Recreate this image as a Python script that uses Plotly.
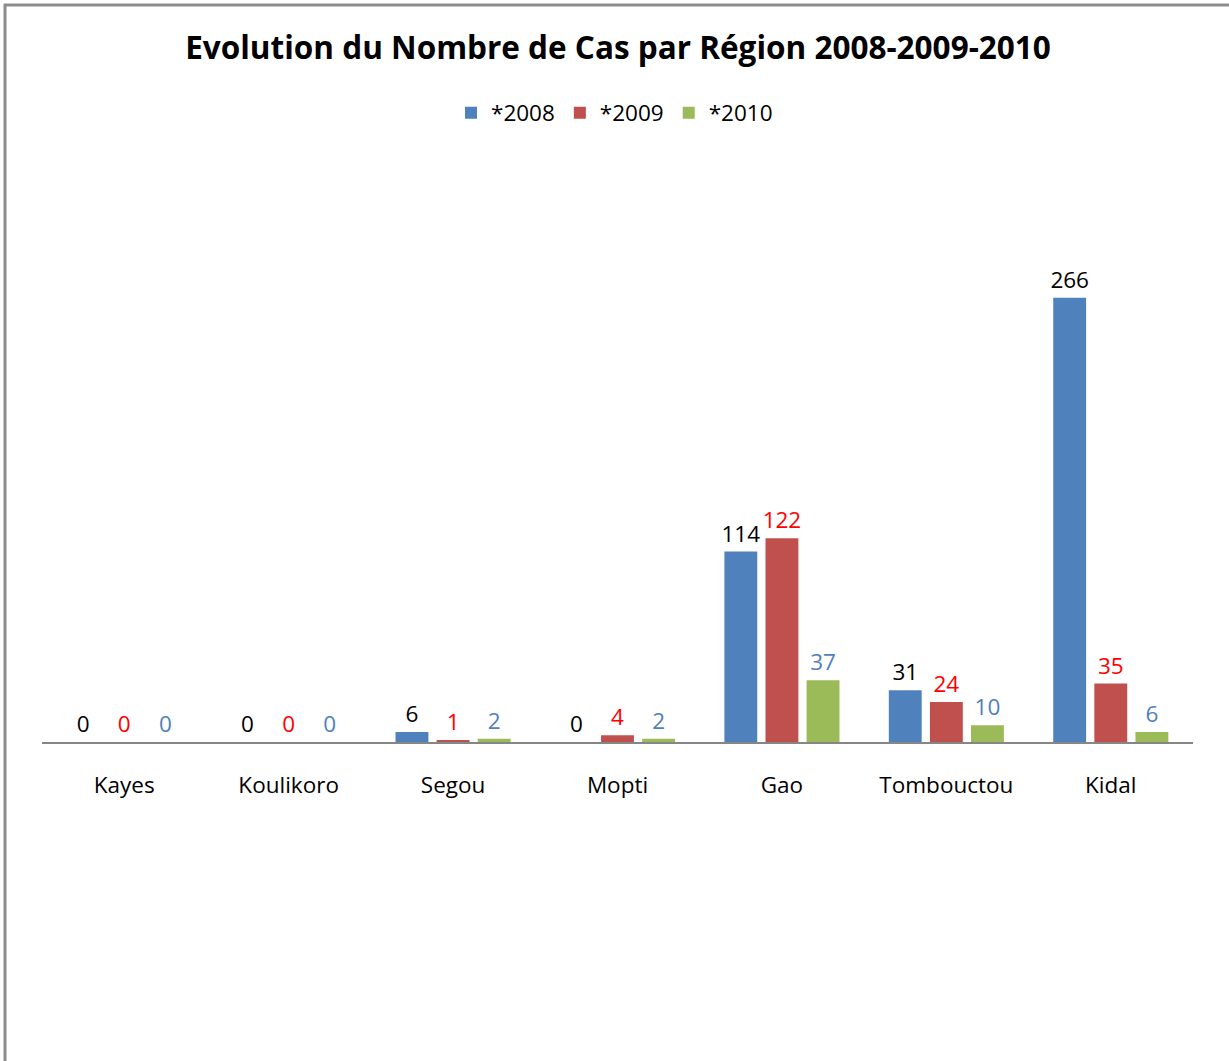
import plotly.graph_objects as go

regions = ["Kayes", "Koulikoro", "Segou", "Mopti", "Gao", "Tombouctou", "Kidal"]
series_names = ["*2008", "*2009", "*2010"]
cases_2008 = [0, 0, 6, 0, 114, 31, 266]
cases_2009 = [0, 0, 1, 4, 122, 24, 35]
cases_2010 = [0, 0, 2, 2, 37, 10, 6]

bar_colors = ["#4F81BD", "#C0504D", "#9BBB59"]
label_colors = ["#000000", "#FF0000", "#4F81BD"]
FONT = "Open Sans"
FS = 22.5

fig = go.Figure()
for name, vals, bc, lc in zip(series_names, [cases_2008, cases_2009, cases_2010], bar_colors, label_colors):
    fig.add_trace(go.Bar(
        x=regions, y=vals, name=name,
        marker=dict(color=bc, line=dict(width=0)),
        text=[str(v) for v in vals], textposition="outside",
        constraintext="none",
        textfont=dict(family=FONT, size=FS, color=lc),
        cliponaxis=False,
    ))

W, H = 1229, 1061
L, R, T, B = 42, 36, 241, 319
pw, ph = W - L - R, H - T - B

def px(x):
    return (x - L) / pw

def py(y):
    return (H - B - y) / ph

fig.update_layout(
    width=W, height=H,
    margin=dict(l=L, r=R, t=T, b=B),
    paper_bgcolor="white", plot_bgcolor="white",
    barmode="group", bargap=0.25, bargroupgap=0.2,
    font=dict(family=FONT, size=FS, color="black"),
    title=dict(text="<b>Evolution du Nombre de Cas par Région 2008-2009-2010</b>",
               x=618 / W, xanchor="center", y=1 - 48 / H, yanchor="middle",
               yref="container", font=dict(family=FONT, size=31.5, color="black")),
    legend=dict(orientation="h", x=0.5, xanchor="center", y=1 - 113 / H, yanchor="middle",
                yref="container", xref="container",
                font=dict(family=FONT, size=FS, color="black"),
                itemwidth=30, tracegroupgap=0),
    xaxis=dict(showline=True, linecolor="#868686", linewidth=2, ticks="",
               showgrid=False, tickfont=dict(family=FONT, size=FS, color="black"),
               ticklabelstandoff=22),
    yaxis=dict(range=[0, 300], visible=False, showgrid=False, zeroline=False),
    shapes=[dict(type="rect", xref="paper", yref="paper",
                 x0=px(5), x1=px(W + 10), y0=py(H + 10), y1=py(5),
                 line=dict(color="#8C8C8C", width=3), fillcolor="rgba(0,0,0,0)", layer="above")],
)

fig.write_html("out.html")
